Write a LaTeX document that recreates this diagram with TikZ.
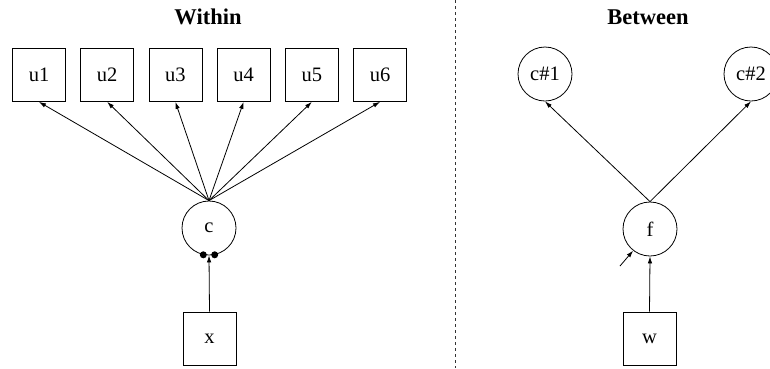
\documentclass[tikz,border=0pt]{standalone}
\usepackage{fontspec}
\setmainfont{Liberation Serif}
\usetikzlibrary{arrows.meta}
\begin{document}
\begin{tikzpicture}[x=1pt,y=-1pt,
  obs/.style={draw,line width=0.8pt,minimum width=53pt,minimum height=53pt,inner sep=0pt,font=\fontsize{20.5}{24}\selectfont},
  lat/.style={draw,circle,line width=0.8pt,minimum size=54pt,inner sep=0pt,font=\fontsize{20.5}{24}\selectfont},
  ttl/.style={font=\fontsize{22.5}{26}\selectfont\bfseries},
  arr/.style={line width=0.8pt,-{Latex[length=7pt,width=4.5pt]}},
  dot/.style={circle,fill=black,inner sep=0pt,minimum size=7pt}]
\useasboundingbox (0,0) rectangle (770,368);
\node[ttl] (tw) at (208,17) {Within};
\node[ttl] (tb) at (648,17) {Between};
\foreach \i/\xx in {1/39,2/107.2,3/175.4,4/243.6,5/311.8,6/380}
  \node[obs] (u\i) at (\xx,75) {u\i};
\node[lat] (c) at (209,228) {c};
\node[obs] (x) at (209.5,338.5) {x};
\foreach \i in {1,...,6}
  \draw[arr] (c.north) -- (u\i.south);
\draw[arr] (x.north) -- (c.south);
\node[dot] (d1) at (c.258) {};
\node[dot] (d2) at (c.282) {};
\coordinate (dtop) at (455,0);
\coordinate (dbot) at (455,368);
\draw[line width=0.8pt,black!80,dash pattern=on 3pt off 3pt] (dtop) -- (dbot);
\node[lat] (c1) at (545,74) {c\#1};
\node[lat] (c2) at (751,74) {c\#2};
\node[lat] (f) at (650,229) {f};
\node[obs] (w) at (649.5,338.5) {w};
\draw[arr] (f.north) -- (c1.south);
\draw[arr] (f.north) -- (c2.south);
\draw[arr] (w.north) -- (f.south);
\coordinate (res) at (620,266);
\draw[arr] (res) -- (f.232);
\end{tikzpicture}
\end{document}
